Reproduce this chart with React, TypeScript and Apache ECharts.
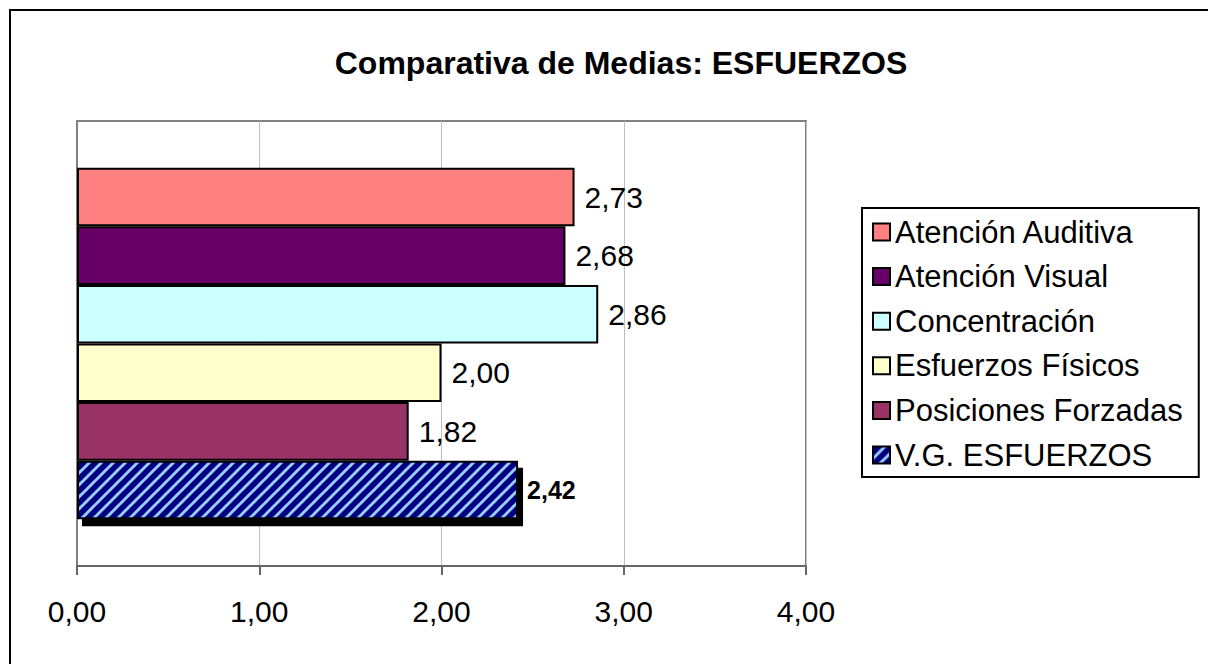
import React, { useEffect, useRef } from "react";
import * as echarts from "echarts";

const categories = [""];
const seriesNames = [
  "Atención Auditiva",
  "Atención Visual",
  "Concentración",
  "Esfuerzos Físicos",
  "Posiciones Forzadas",
  "V.G. ESFUERZOS",
];
const seriesValues = [2.73, 2.68, 2.86, 2.0, 1.82, 2.42];
const xTicks = [0, 1, 2, 3, 4];
const titleText = "Comparativa de Medias: ESFUERZOS";

const COLORS = ["#FF8080", "#660066", "#CCFFFF", "#FFFFCC", "#993366"];
const FONT = "'Liberation Sans', Arial, Helvetica, sans-serif";

function makeHatch(): HTMLCanvasElement {
  const c = document.createElement("canvas");
  c.width = 12;
  c.height = 12;
  const ctx = c.getContext("2d")!;
  ctx.fillStyle = "#000080";
  ctx.fillRect(0, 0, 12, 12);
  ctx.strokeStyle = "#99CCFF";
  ctx.lineWidth = 3;
  for (const k of [-12, 0, 12]) {
    ctx.beginPath();
    ctx.moveTo(k - 1, 13);
    ctx.lineTo(k + 13, -1);
    ctx.stroke();
  }
  return c;
}

const fmt = (v: number) => v.toFixed(2).replace(".", ",");

export default function App() {
  const ref = useRef<HTMLDivElement>(null);
  useEffect(() => {
    if (!ref.current) return;
    const chart = echarts.init(ref.current, null, { renderer: "svg" });
    const hatch = makeHatch();
    const series = seriesNames.map((name, i) => {
      const isLast = i === seriesNames.length - 1;
      return {
        name,
        type: "bar",
        data: [seriesValues[i]],
        barGap: "0%",
        barCategoryGap: "21%",
        itemStyle: isLast
          ? {
              color: { image: hatch, repeat: "repeat" },
              borderColor: "#000",
              borderWidth: 2,
              shadowColor: "#000",
              shadowBlur: 0,
              shadowOffsetX: 5,
              shadowOffsetY: 7,
            }
          : { color: COLORS[i], borderColor: "#000", borderWidth: 2 },
        label: {
          show: true,
          position: "right",
          distance: isLast ? 9 : 10,
          color: "#000",
          fontFamily: FONT,
          fontSize: isLast ? 25 : 30,
          fontWeight: isLast ? "bold" : "normal",
          formatter: (p: any) => fmt(p.value),
        },
      };
    });
    chart.setOption({
      animation: false,
      backgroundColor: "#fff",
      title: {
        text: titleText,
        left: 616,
        top: 42,
        textAlign: "center",
        textStyle: { fontFamily: FONT, fontSize: 32, fontWeight: "bold", color: "#000" },
      },
      graphic: [
        {
          type: "rect",
          shape: { x: 10, y: 10, width: 1400, height: 900 },
          style: { fill: "none", stroke: "#000", lineWidth: 2 },
          silent: true,
        },
      ],
      legend: {
        orient: "vertical",
        left: 862,
        top: 208,
        padding: [6, 16, 4, 10],
        itemGap: 8.6,
        itemWidth: 17,
        itemHeight: 17,
        icon: "rect",
        borderColor: "#000",
        borderWidth: 2,
        data: seriesNames.map((n, i) =>
          i === seriesNames.length - 1
            ? { name: n, itemStyle: { shadowColor: "rgba(0,0,0,0)", shadowOffsetX: 0, shadowOffsetY: 0 } }
            : { name: n }
        ),
        textStyle: { fontFamily: FONT, fontSize: 31, color: "#000", lineHeight: 36 },
      },
      grid: {
        left: 77,
        top: 121,
        right: 402,
        bottom: 98,
        show: true,
        borderColor: "#808080",
        borderWidth: 2,
        containLabel: false,
      },
      xAxis: {
        type: "value",
        min: xTicks[0],
        max: xTicks[xTicks.length - 1],
        interval: 1,
        axisLine: { show: true, lineStyle: { color: "#666", width: 2 } },
        axisTick: { show: true, length: 9, lineStyle: { color: "#666", width: 2 } },
        splitLine: { show: true, lineStyle: { color: "#C0C0C0", width: 1 } },
        axisLabel: {
          margin: 30,
          fontFamily: FONT,
          fontSize: 30,
          color: "#000",
          formatter: (v: number) => fmt(v),
        },
      },
      yAxis: {
        type: "category",
        data: categories,
        inverse: true,
        axisLine: { show: true, lineStyle: { color: "#808080", width: 2 } },
        axisTick: { show: false },
        axisLabel: { show: false },
      },
      series,
    } as any);
    return () => chart.dispose();
  }, []);
  return (
    <div
      ref={ref}
      style={{ position: "absolute", left: 0, top: 0, width: 1208, height: 664 }}
    />
  );
}
